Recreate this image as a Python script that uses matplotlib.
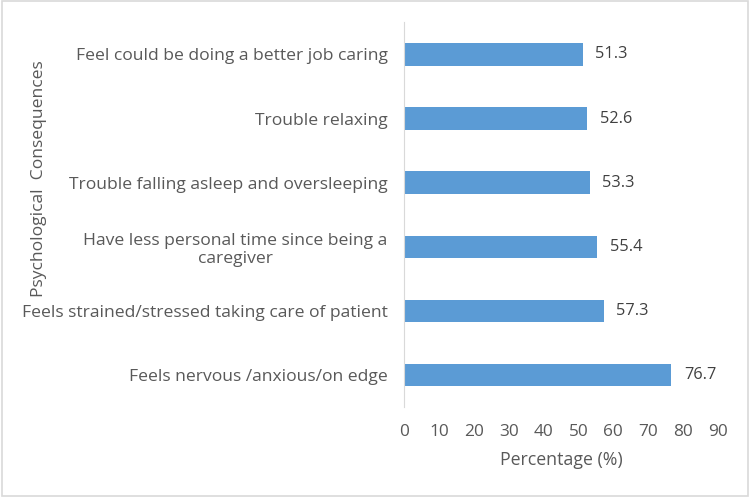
import matplotlib
matplotlib.use("Agg")
import matplotlib.pyplot as plt

# data (bottom to top, as drawn)
categories = [
    "Feels nervous /anxious/on edge",
    "Feels strained/stressed taking care of patient",
    "Have less personal time since being a\ncaregiver",
    "Trouble falling asleep and oversleeping",
    "Trouble relaxing",
    "Feel could be doing a better job caring",
]
values = [76.7, 57.3, 55.4, 53.3, 52.6, 51.3]
x_ticks = list(range(0, 100, 10))

text_color = "#595959"
bar_color = "#5B9BD5"

plt.rcParams["font.family"] = ["Open Sans", "DejaVu Sans"]

fig = plt.figure(figsize=(7.5, 4.97), dpi=100)
ax = fig.add_axes([0.539, 0.181, 0.418, 0.774])

y = range(len(categories))
ax.barh(y, values, height=0.35, color=bar_color)
for yi, v in zip(y, values):
    ax.text(v + 3.6, yi, f"{v:.1f}", va="center", ha="left",
            fontsize=11.8, color="#404040")

ax.set_xlim(0, 90)
ax.set_ylim(-0.5, len(categories) - 0.5)
ax.set_xticks(x_ticks)
ax.set_yticks(list(y))
ax.set_yticklabels(categories, multialignment="center")
ax.tick_params(axis="y", length=0, pad=12, labelsize=12.6, labelcolor=text_color)
ax.tick_params(axis="x", length=0, pad=12, labelsize=12.4, labelcolor=text_color)

for s in ["top", "right", "bottom"]:
    ax.spines[s].set_visible(False)
ax.spines["left"].set_color("#D9D9D9")

ax.set_xlabel("Percentage (%)", fontsize=12.8, color=text_color, labelpad=8)
fig.text(0.052, 0.64, "Psychological  Consequences", rotation=90,
         ha="center", va="center", fontsize=12.6, color=text_color)

# outer frame
fig.patches.append(plt.Rectangle((0.002, 0.003), 0.995, 0.994, transform=fig.transFigure,
                                 fill=False, edgecolor="#D9D9D9", linewidth=1.2))

fig.savefig("out.png", dpi=100)
